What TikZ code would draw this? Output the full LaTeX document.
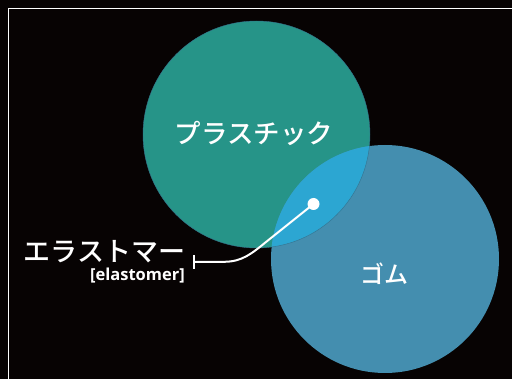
\documentclass[tikz,border=0pt]{standalone}
\usepackage{fontspec}
\setmainfont{Open Sans}
\newfontfamily\jpfont{Noto Sans CJK JP Medium}
\usetikzlibrary{calc}
\definecolor{bgc}{HTML}{070303}
\definecolor{plasc}{HTML}{269488}
\definecolor{gomuc}{HTML}{448EAF}
\definecolor{bothc}{HTML}{2CA6D2}
\tikzset{
  jplabel/.style={text=white,inner sep=0pt,font=\jpfont\fontsize{26.5}{26.5}\selectfont},
  enlabel/.style={text=white,inner sep=0pt,font=\bfseries\fontsize{16.5}{16.5}\selectfont},
  leader/.style={draw=white,line width=2pt},
}
\begin{document}
\begin{tikzpicture}[x=1pt,y=-1pt]
\useasboundingbox (0,0) rectangle (512,379);
\fill[bgc] (0,0) rectangle (512,379);
\draw[white,line width=1.3pt] (8.7,390) -- (8.7,8.7) -- (520,8.7);
% circles
\fill[plasc] (256.5,134.5) circle[radius=113.5pt];
\fill[gomuc] (385,259) circle[radius=114pt];
\begin{scope}
  \clip (256.5,134.5) circle[radius=113.5pt];
  \fill[bothc] (385,259) circle[radius=114pt];
\end{scope}
\draw[gomuc!80!black,line width=0.4pt] (256.5,134.5) circle[radius=113.5pt];
% labels
\node[jplabel] (plastic) at (254,133.5) {プラスチック};
\node[jplabel,font=\jpfont\fontsize{24}{24}\selectfont] (gomu) at (384,274) {ゴム};
\node[jplabel,anchor=east,font=\jpfont\fontsize{27}{27}\selectfont] (elast) at (185.5,252) {エラストマー};
\node[enlabel,anchor=east] (elasten) at (185,275.5) {[elastomer]};
% connector
\node[circle,fill=white,inner sep=0pt,minimum size=12pt] (dot) at (313.5,204) {};
\coordinate (bend) at (266,242);
\coordinate (flat) at (224,261.8);
\coordinate (tick) at (193.5,261.8);
\draw[leader] (dot.center) -- (bend) to[out=219,in=0] (flat) -- (tick);
\draw[leader] ($(tick)+(0,-7)$) -- ($(tick)+(0,7)$);
\end{tikzpicture}
\end{document}
